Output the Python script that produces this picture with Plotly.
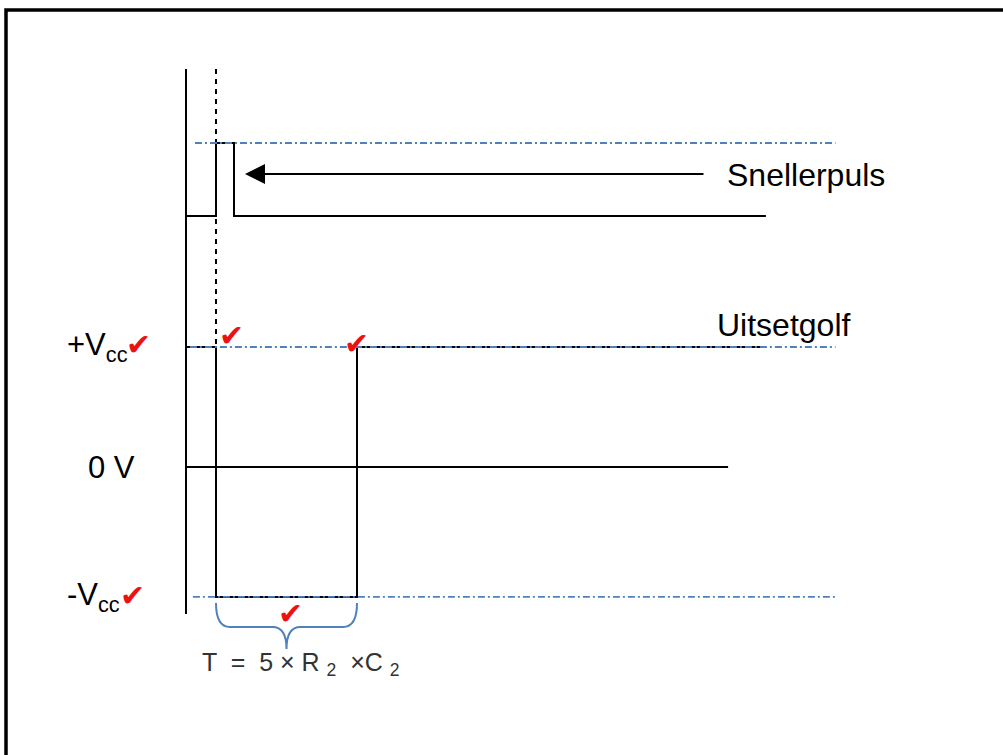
import plotly.graph_objects as go

# ---------------- data (diagram units: time t, level v) ----------------
# output waveform of the monostable: +Vcc before trigger, -Vcc for period T, back to +Vcc
out_t = [0.0, 1.0, 1.0, 5.7, 5.7, 19.33]
out_v = [1.0, 1.0, -1.083, -1.083, 1.0, 1.0]
# trigger pulse (Snellerpuls)
pulse_t = [0.0, 1.0, 1.0, 1.6, 1.6, 19.33]
pulse_v = [2.092, 2.092, 2.7, 2.7, 2.092, 2.092]
# reference levels
level_names = ["+V<sub>cc</sub>", "0 V", "-V<sub>cc</sub>"]
level_values = [1.0, 0.0, -1.083]
pulse_high = 2.7
zero_end = 18.07
ref_start = [0.3, 0.13, 0.23]      # start of dash-dot guide lines (pulse top, +Vcc, -Vcc)
ref_end = 21.65
axis_top = 3.317
axis_bottom = -1.225
trigger_t = 1.0
dashed_bottom = 0.49
period_start, period_end = 1.0, 5.7

BLUE = "#4f81bd"
RED = "#ee1111"
BLACK = "#000000"

# axis ranges chosen so that 1 time unit = 30 px, 1 level unit = 120 px
XR = [-6.2, 27.2333]
YR = [-2.4, 3.8917]
PXX = 1003 / (XR[1] - XR[0])
PXY = 755 / (YR[1] - YR[0])

fig = go.Figure()

# vertical axis line
fig.add_trace(go.Scatter(x=[0, 0], y=[axis_top, axis_bottom], mode="lines",
                         line=dict(color=BLACK, width=2), hoverinfo="skip"))
# dashed trigger marker
fig.add_trace(go.Scatter(x=[trigger_t, trigger_t], y=[axis_top, dashed_bottom], mode="lines",
                         line=dict(color=BLACK, width=2, dash="5px,5px"), hoverinfo="skip"))
# 0 V line
fig.add_trace(go.Scatter(x=[0, zero_end], y=[0, 0], mode="lines",
                         line=dict(color=BLACK, width=2), hoverinfo="skip"))
# waveforms
fig.add_trace(go.Scatter(x=pulse_t, y=pulse_v, mode="lines",
                         line=dict(color=BLACK, width=2), hoverinfo="skip"))
fig.add_trace(go.Scatter(x=out_t, y=out_v, mode="lines",
                         line=dict(color=BLACK, width=2), hoverinfo="skip"))
# dash-dot guide lines
for yv, xs in zip([pulse_high, level_values[0], level_values[2]], ref_start):
    fig.add_trace(go.Scatter(x=[xs, ref_end], y=[yv, yv], mode="lines",
                             line=dict(color=BLUE, width=1.8, dash="7px,3px,2px,3px"),
                             hoverinfo="skip"))

# curly brace under the -Vcc period
def brace_path(x0, x1, ytop, depth_px=24, tip_px=22, r_px=14):
    dy1 = depth_px / PXY
    dy2 = tip_px / PXY
    rx = r_px / PXX
    xm = (x0 + x1) / 2
    yb = ytop - dy1
    yt = yb - dy2
    return (f"M {x0},{ytop} Q {x0},{yb} {x0+rx},{yb} L {xm-rx},{yb} "
            f"Q {xm},{yb} {xm},{yt} Q {xm},{yb} {xm+rx},{yb} "
            f"L {x1-rx},{yb} Q {x1},{yb} {x1},{ytop}")

brace_top = level_values[2] - 6 / PXY
fig.add_shape(type="path", path=brace_path(period_start, period_end, brace_top),
              xref="x", yref="y", line=dict(color=BLUE, width=2))

# outer frame (right/bottom sides fall outside the picture)
fig.add_shape(type="rect", xref="x", yref="y", x0=-6.0, x1=30, y0=-3, y1=3.808,
              line=dict(color=BLACK, width=3.5))

# arrow pointing at the trigger pulse
fig.add_annotation(x=1.967, y=2.442, ax=17.3, ay=2.442, axref="x", ayref="y",
                   xref="x", yref="y", text="", showarrow=True, arrowhead=2,
                   arrowsize=2.0, arrowwidth=2, arrowcolor=BLACK, standoff=0)

FONT = "Liberation Sans, Arial, sans-serif"
fig.add_annotation(x=17.97, y=2.435, text="Snellerpuls", showarrow=False, xanchor="left",
                   yanchor="middle", font=dict(family=FONT, size=32, color=BLACK))
fig.add_annotation(x=17.63, y=1.18, text="Uitsetgolf", showarrow=False, xanchor="left",
                   yanchor="middle", font=dict(family=FONT, size=32, color=BLACK))

label_x = [-4.03, -3.33, -4.03]
for name, yv, lx in zip(level_names, level_values, label_x):
    fig.add_annotation(x=lx, y=yv, text=name, showarrow=False, xanchor="left",
                       yanchor="middle", font=dict(family=FONT, size=31, color=BLACK))

# formula
fig.add_annotation(x=0.45, y=-1.64, text="T  =  5 × R <sub>2</sub>  ×C <sub>2</sub>",
                   showarrow=False, xanchor="left", yanchor="middle",
                   font=dict(family=FONT, size=25, color="#333333"))

# red check marks
check_x = [-1.6, 1.53, 5.67, -1.8, 3.47]
check_y = [1.02, 1.10, 1.03, -1.07, -1.22]
for cx, cy in zip(check_x, check_y):
    fig.add_annotation(x=cx, y=cy, text="✔", showarrow=False, xanchor="center",
                       yanchor="middle", font=dict(family="DejaVu Sans", size=30, color=RED))

fig.update_layout(width=1003, height=755, margin=dict(l=0, r=0, t=0, b=0),
                  paper_bgcolor="white", plot_bgcolor="white", showlegend=False,
                  xaxis=dict(range=XR, visible=False, fixedrange=True),
                  yaxis=dict(range=YR, visible=False, fixedrange=True))

# remove the browser's default 8px page margin so the figure sits at the window origin
fig.write_html("out.html", config={"displayModeBar": False},
               post_script="document.body.style.margin='0px';")
